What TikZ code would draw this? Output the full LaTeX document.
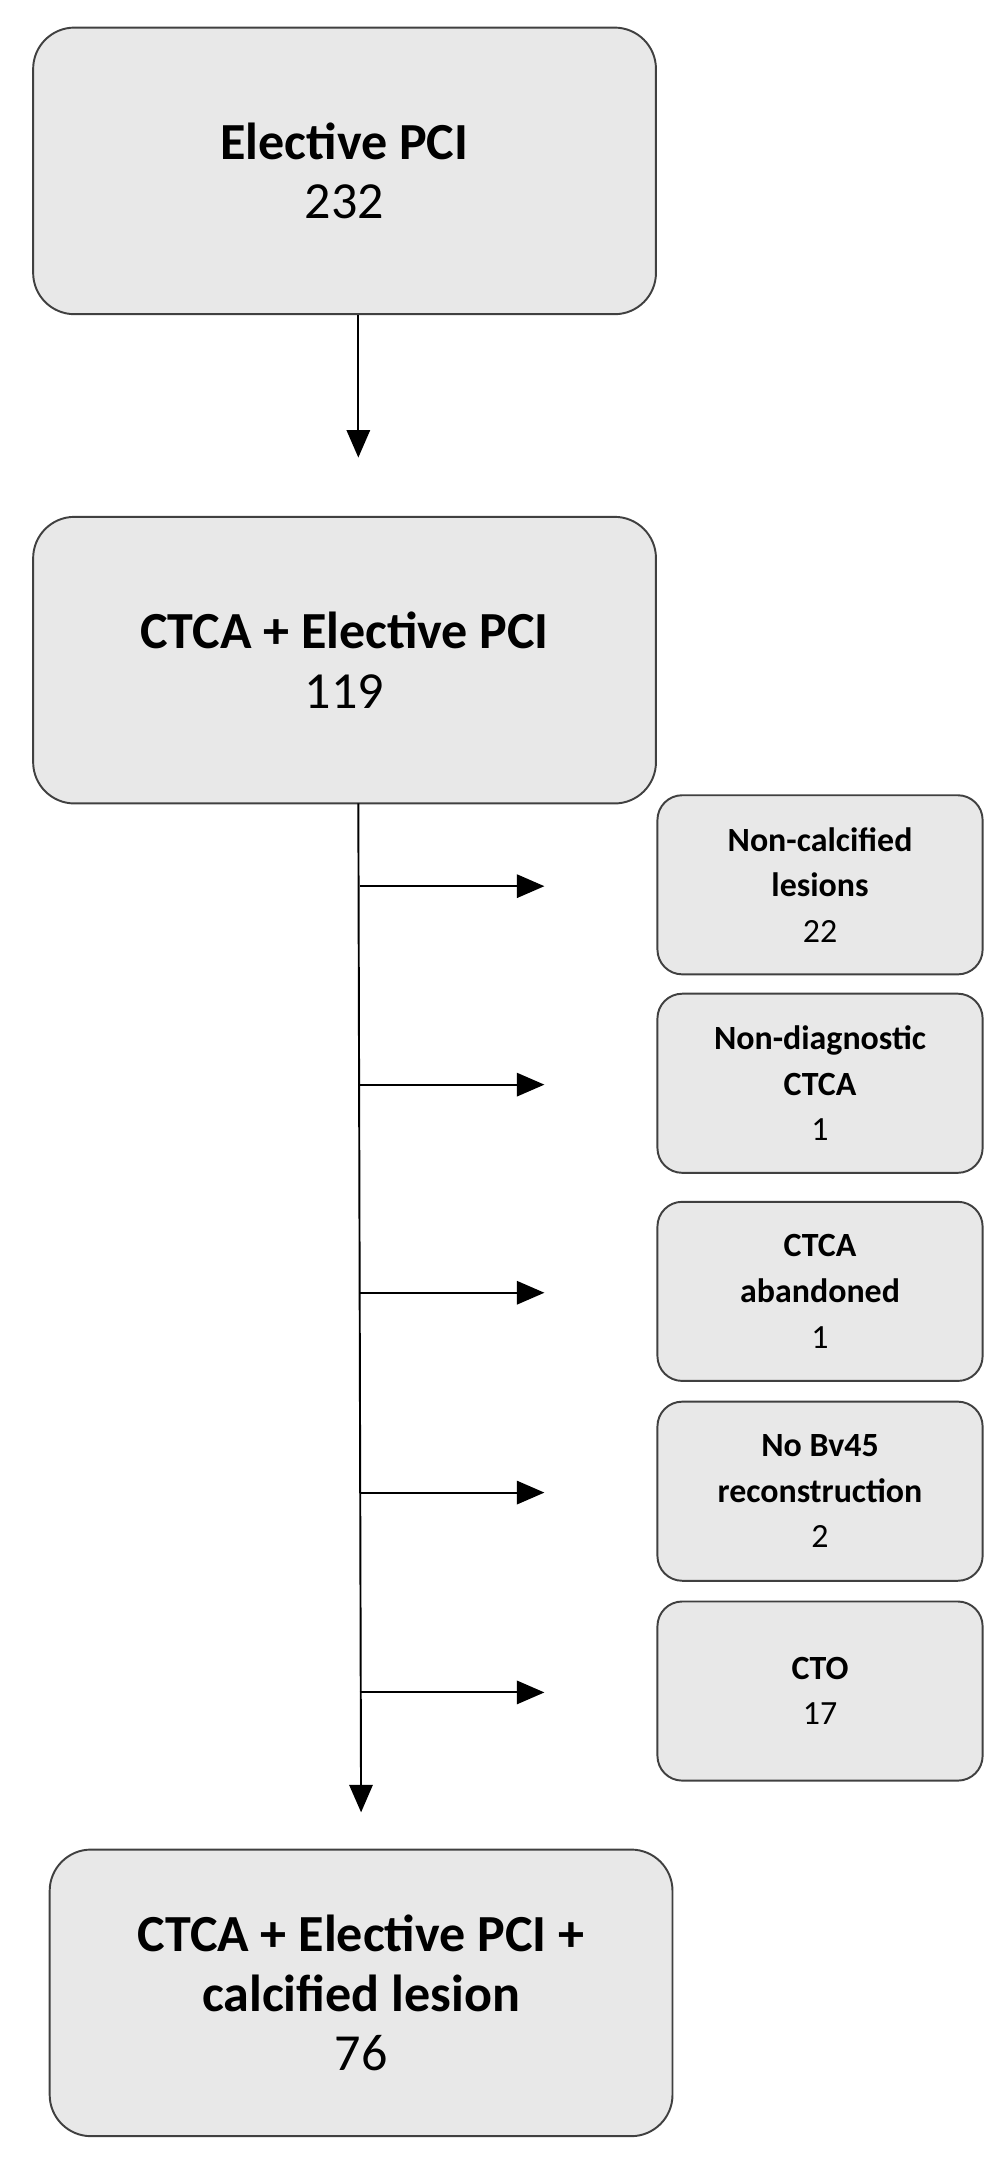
\documentclass[tikz,border=0pt]{standalone}
\usepackage{fontspec}
\setmainfont{Carlito}
\usetikzlibrary{arrows.meta, positioning}

\tikzset{
  bigbox/.style = {draw=black!75, fill=black!9, rounded corners=0.6cm, line width=0.8pt,
    minimum width=9.04cm, minimum height=4.16cm, align=center, font=\fontsize{21.5}{24.5}\selectfont},
  smallbox/.style = {draw=black!75, fill=black!9, rounded corners=0.36cm, line width=0.8pt,
    minimum width=4.72cm, minimum height=2.6cm, align=center, font=\fontsize{14}{18.8}\selectfont},
  flow/.style = {-{Triangle[length=0.4cm, width=0.34cm]}, line width=0.8pt}
}

\begin{document}
\begin{tikzpicture}[x=0.02cm, y=-0.02cm]
    \useasboundingbox (0,0) rectangle (728,1568);

    \node (pci) [bigbox] at (250,124) {\textbf{Elective PCI}\\232};
    \node (ctca) [bigbox] at (250,479) {\textbf{CTCA + Elective PCI}\\119};
    \node (calc) [bigbox] at (262,1446) {\textbf{CTCA + Elective PCI +}\\\textbf{calcified lesion}\\76};

    \node (noncalc) [smallbox] at (595,642) {\textbf{Non-calcified}\\\textbf{lesions}\\22};
    \node (nondiag) [smallbox] at (595,786) {\textbf{Non-diagnostic}\\\textbf{CTCA}\\1};
    \node (aband) [smallbox] at (595,937) {\textbf{CTCA}\\\textbf{abandoned}\\1};
    \node (nobv) [smallbox] at (595,1082) {\textbf{No Bv45}\\\textbf{reconstruction}\\2};
    \node (cto) [smallbox] at (595,1227) {\textbf{CTO}\\17};

    \coordinate (pciend) at (260,332);
    \coordinate (trunktop) at (260,583);
    \coordinate (trunkend) at (262,1315);

    \draw [flow] (pci.south -| pciend) -- (pciend);
    \draw [flow] (trunktop) -- (trunkend);

    % branches off the trunk
    \foreach \name/\yy in {noncalc/643, nondiag/787, aband/938, nobv/1083, cto/1228} {
        \coordinate (\name-in) at (261,\yy);
        \coordinate (\name-tip) at (395,\yy);
        \draw [flow] (\name-in) -- (\name-tip);
    }
\end{tikzpicture}
\end{document}
